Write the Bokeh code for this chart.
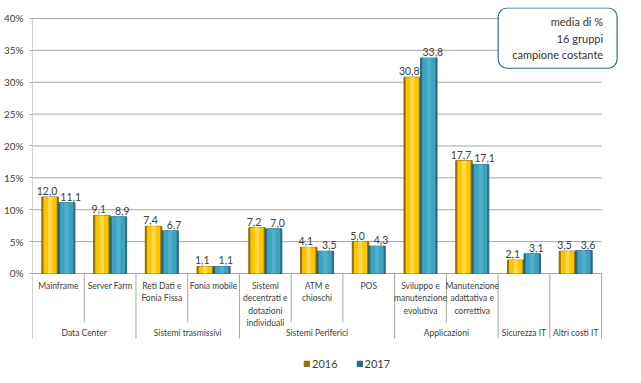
from bokeh.plotting import figure
from bokeh.models import Range1d, FixedTicker, Label, Legend, LegendItem, ColumnDataSource
from bokeh.core.properties import value
from bokeh.embed import file_html
from bokeh.resources import INLINE

# ---- data ----
categories = ["Mainframe", "Server Farm", "Reti Dati e\nFonia Fissa", "Fonia mobile",
              "Sistemi\ndecentrati e\ndotazioni\nindividuali", "ATM e\nchioschi", "POS",
              "Sviluppo e\nmanutenzione\nevolutiva", "Manutenzione\nadattativa e\ncorrettiva",
              "", ""]
group_names = ["Data Center", "Sistemi trasmissivi", "Sistemi Periferici", "Applicazioni",
               "Sicurezza IT", "Altri costi IT"]
group_sizes = [2, 2, 3, 2, 1, 1]
values_2016 = [12.0, 9.1, 7.4, 1.1, 7.2, 4.1, 5.0, 30.8, 17.7, 2.1, 3.5]
values_2017 = [11.1, 8.9, 6.7, 1.1, 7.0, 3.5, 4.3, 33.8, 17.1, 3.1, 3.6]
y_ticks = [0, 5, 10, 15, 20, 25, 30, 35, 40]
note_text = "media di %\n16 gruppi\ncampione costante"

FONT = value("Lato")
TXT = "#404040"
GRID = "#A6A6A6"

n = len(categories)
centers = [i + 0.5 for i in range(n)]
bw = 0.32
x16 = [c - bw / 2 for c in centers]
x17 = [c + bw / 2 for c in centers]

p = figure(width=630, height=377, x_range=Range1d(0, 11.327), y_range=Range1d(-15.53, 41.725),
           output_backend="svg", toolbar_location=None, x_axis_location=None,
           min_border_left=29, min_border_right=12, min_border_top=7, min_border_bottom=5)
p.outline_line_color = None
p.xgrid.visible = False
p.ygrid.visible = False
p.yaxis.ticker = FixedTicker(ticks=y_ticks)
p.yaxis.major_label_overrides = {t: f"{t}%" for t in y_ticks}
p.yaxis.axis_line_color = None
p.yaxis.major_tick_line_color = GRID
p.yaxis.major_tick_in = 0
p.yaxis.major_tick_out = 3
p.yaxis.minor_tick_line_color = None
p.yaxis.major_label_standoff = 6
p.yaxis.major_label_text_font = "Lato"
p.yaxis.major_label_text_font_size = "10px"
p.yaxis.major_label_text_color = TXT

# ---- grid lines (only over the category span) and category axis lines ----
bounds = [0]
for s in group_sizes:
    bounds.append(bounds[-1] + s)
inner = [i for i in range(1, n) if i not in bounds]
p.segment(x0=[0] * len(y_ticks), y0=y_ticks, x1=[n] * len(y_ticks), y1=y_ticks,
          line_color=GRID, line_width=1)
p.segment(x0=[0], y0=[0], x1=[0], y1=[y_ticks[-1]], line_color=GRID, line_width=1)
p.segment(x0=inner, y0=[0] * len(inner), x1=inner, y1=[-7.69] * len(inner),
          line_color=GRID, line_width=1)
p.segment(x0=bounds, y0=[0] * len(bounds), x1=bounds, y1=[-10.2] * len(bounds),
          line_color=GRID, line_width=1)

# ---- bars ----
src16 = ColumnDataSource(dict(x=x16, top=values_2016,
                              lab=[f"{v:.1f}".replace(".", ",") for v in values_2016]))
src17 = ColumnDataSource(dict(x=x17, top=values_2017,
                              lab=[f"{v:.1f}".replace(".", ",") for v in values_2017]))

r16 = p.vbar(x="x", top="top", bottom=0, width=bw, source=src16,
             fill_color="#9C7400", line_color="#7A5A00", line_width=0.8)
p.vbar(x="x", top="top", bottom=0, width=bw * 0.8, source=src16,
       fill_color="#FFC400", line_color=None)
p.vbar(x="x", top="top", bottom=0, width=bw * 0.25, source=src16,
       fill_color="#FFD94A", line_color=None)

r17 = p.vbar(x="x", top="top", bottom=0, width=bw, source=src17,
             fill_color="#236F87", line_color="#1D5C70", line_width=0.8)
p.vbar(x="x", top="top", bottom=0, width=bw * 0.8, source=src17,
       fill_color="#3FA2C0", line_color=None)
p.vbar(x="x", top="top", bottom=0, width=bw * 0.25, source=src17,
       fill_color="#4FB0CC", line_color=None)

for src, dx in ((src16, -3), (src17, 4)):
    p.text(x="x", y="top", text="lab", source=src, text_align="center",
           text_baseline="bottom", x_offset=dx, y_offset=-2, text_font=FONT,
           text_font_size="10.5px", text_color=TXT)

p.text(x=centers, y=[-1.16] * n, text=categories, text_align="center",
       text_baseline="top", text_font=FONT, text_font_size="8.5px",
       text_line_height=1.25, text_color=TXT)
gcent = [(bounds[i] + bounds[i + 1]) / 2 for i in range(len(group_sizes))]
p.text(x=gcent, y=[-9.41] * len(gcent), text=group_names, text_align="center",
       text_baseline="middle", text_font=FONT, text_font_size="8.5px", text_color=TXT)

# ---- note box ----
note = Label(x=11.30, y=41.65, text=note_text, text_align="right", text_baseline="top",
             text_font="Lato", text_font_size="11px", text_color="#333333",
             text_line_height=1.28, background_fill_color="white",
             border_line_color="#2E6E8A", border_line_width=1.2,
             padding=dict(left=14, right=14, top=7, bottom=7), border_radius=9)
p.add_layout(note)

# ---- legend ----
legend = Legend(items=[LegendItem(label="2016", renderers=[r16]),
                       LegendItem(label="2017", renderers=[r17])],
                orientation="horizontal", location=(271, 2),
                glyph_width=7, glyph_height=7, label_standoff=2, spacing=18,
                padding=1, margin=0, border_line_color=None, background_fill_alpha=0,
                label_text_font="Lato", label_text_font_size="11px",
                label_text_color=TXT)
p.add_layout(legend)

open("out.html", "w").write(file_html(p, INLINE))
